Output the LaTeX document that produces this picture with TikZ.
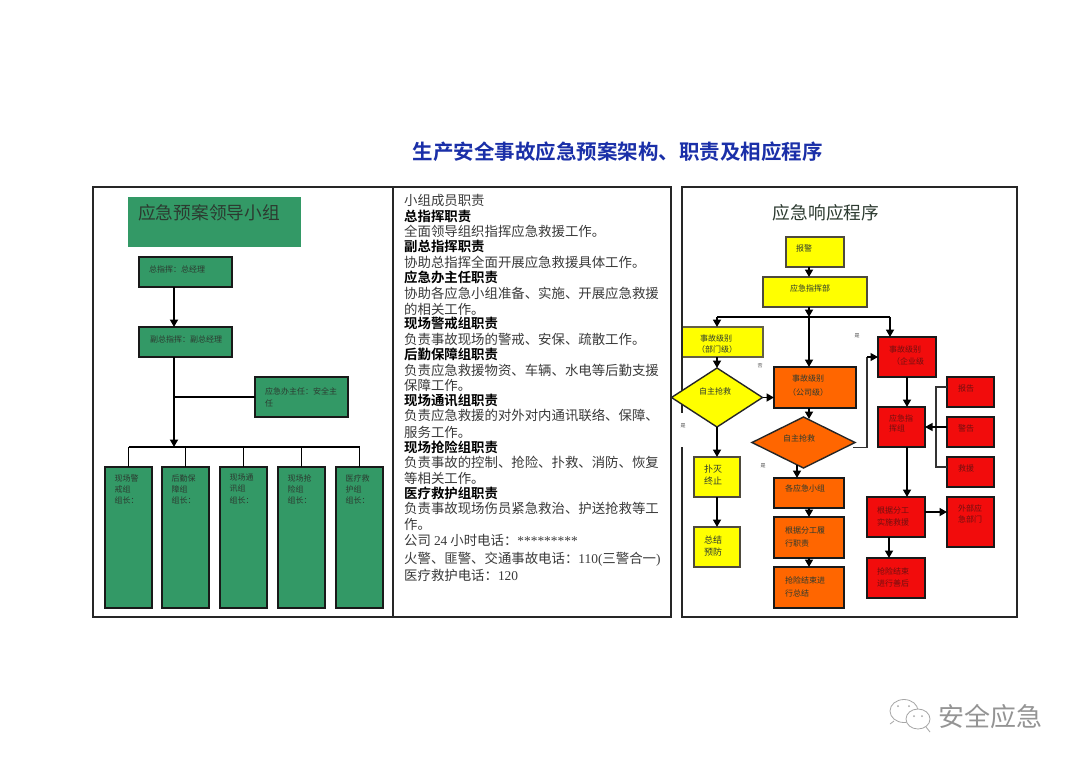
\documentclass[tikz,border=0pt]{standalone}
\usepackage{fontspec}
\usetikzlibrary{shapes.geometric,arrows.meta,calc}
\setmainfont{Liberation Serif}
\newfontfamily\cjk[BoldFont={Noto Sans CJK SC Bold}]{Noto Sans CJK SC}
\definecolor{gbox}{HTML}{339966}
\definecolor{obox}{HTML}{FF6600}
\definecolor{rbox}{HTML}{F20C0C}
\definecolor{ybox}{HTML}{FFFF00}
\definecolor{tblue}{HTML}{1A2FA8}
\definecolor{bodyc}{HTML}{3A3A3A}
\definecolor{lab}{HTML}{2C3A30}
\definecolor{labr}{HTML}{701010}
\tikzset{
  x=1pt,y=-1pt,
  base/.style={draw=black!90,line width=1.3pt,inner sep=0pt,outer sep=0pt,anchor=north west,align=left,text=lab,font=\cjk\fontsize{8}{11}\selectfont},
  gnode/.style={base,fill=gbox},
  ynode/.style={base,fill=ybox,draw=black!80!yellow},
  onode/.style={base,fill=obox},
  rnode/.style={base,fill=rbox},
  lbl/.style={inner sep=0pt,anchor=west,text=lab,font=\cjk\fontsize{8}{11}\selectfont,align=left},
  lblr/.style={lbl,text=labr},
  arr/.style={draw=black,line width=1.7pt,-{Triangle[length=7.5pt,width=8pt]}},
  ln/.style={draw=black,line width=1.2pt},
  panel/.style={draw=black!85,line width=1.2pt,fill=none},
  bt/.style={inner sep=0pt,anchor=west,text=bodyc,font=\cjk\fontsize{13.4}{15}\selectfont},
  bh/.style={inner sep=0pt,anchor=west,text=black,font=\cjk\bfseries\fontsize{13.4}{15}\selectfont},
  tinymark/.style={inner sep=0pt,text=black!70,font=\cjk\fontsize{5}{5}\selectfont}
}
\begin{document}
\begin{tikzpicture}
\useasboundingbox (0,0) rectangle (1080,764);
\fill[white] (0,0) rectangle (1080,764);
% title
\node[inner sep=0pt,text=tblue,font=\cjk\bfseries\fontsize{20.5}{22}\selectfont] (title) at (617.5,152) {生产安全事故应急预案架构、职责及相应程序};
% panels
\draw[panel] (93,187) rectangle (671,617);
\draw[panel] (393,187) -- (393,617);
\draw[panel] (682,187) rectangle (1017,617);

% left panel
\node[anchor=north west,minimum width=173pt,minimum height=50pt,inner sep=0pt,outer sep=0pt,fill=gbox] (lead) at (128,197) {};
\node[inner sep=0pt,text=lab,font=\cjk\fontsize{17.7}{20}\selectfont] (leadt) at (209,213) {应急预案领导小组};
\node[gnode,minimum width=93pt,minimum height=30pt] (zong) at (139,257) {};
\node[lbl] (zongt) at (149,269) {总指挥：总经理};
\node[gnode,minimum width=93pt,minimum height=30pt] (fu) at (139,327) {};
\node[lbl] (fut) at (150,339) {副总指挥：副总经理};
\node[gnode,minimum width=93pt,minimum height=40pt] (ban) at (255,377) {};
\node[lbl] (bant1) at (265,391) {应急办主任：安全主};
\node[lbl] (bant2) at (265,403) {任};
\coordinate (zx) at (174,287);
\coordinate (fxt) at (174,327);
\coordinate (fxb) at (174,357);
\coordinate (branch) at (174,447);
\coordinate (banj) at (174,397);
\draw[arr] (zx) -- (fxt);
\draw[arr] (fxb) -- (branch);
\draw[ln] (banj) -- (ban.west|-banj);
\foreach \n/\x/\a/\b in {g1/105/现场警/戒组,g2/162/后勤保/障组,g3/220/现场通/讯组,g4/278/现场抢/险组,g5/336/医疗救/护组}{
  \node[gnode,minimum width=47pt,minimum height=141pt] (\n) at (\x,467) {};
  \node[lbl] at (\x+9.5,478) {\a};
  \node[lbl] at (\x+9.5,489) {\b};
  \node[lbl] at (\x+9.5,500) {组长：};
}
\draw[ln] ($(g1.north)+(0,-20)$) -- ($(g5.north)+(0,-20)$);
\foreach \n in {g1,g2,g3,g4,g5}{\draw[ln] ($(\n.north)+(0,-20)$) -- (\n.north);}

% middle text
\node[bt] (m1) at (404,200) {小组成员职责};
\node[bh] (m2) at (404,216) {总指挥职责};
\node[bt] (m3) at (404,231) {全面领导组织指挥应急救援工作。};
\node[bh] (m4) at (404,246) {副总指挥职责};
\node[bt] (m5) at (404,262) {协助总指挥全面开展应急救援具体工作。};
\node[bh] (m6) at (404,277) {应急办主任职责};
\node[bt] (m7) at (404,293) {协助各应急小组准备、实施、开展应急救援};
\node[bt] (m8) at (404,309) {的相关工作。};
\node[bh] (m9) at (404,323) {现场警戒组职责};
\node[bt] (m10) at (404,339) {负责事故现场的警戒、安保、疏散工作。};
\node[bh] (m11) at (404,354) {后勤保障组职责};
\node[bt] (m12) at (404,370) {负责应急救援物资、车辆、水电等后勤支援};
\node[bt] (m13) at (404,385) {保障工作。};
\node[bh] (m14) at (404,400) {现场通讯组职责};
\node[bt] (m15) at (404,415) {负责应急救援的对外对内通讯联络、保障、};
\node[bt] (m16) at (404,432) {服务工作。};
\node[bh] (m17) at (404,447) {现场抢险组职责};
\node[bt] (m18) at (404,462) {负责事故的控制、抢险、扑救、消防、恢复};
\node[bt] (m19) at (404,478) {等相关工作。};
\node[bh] (m20) at (404,493) {医疗救护组职责};
\node[bt] (m21) at (404,508) {负责事故现场伤员紧急救治、护送抢救等工};
\node[bt] (m22) at (404,524) {作。};
\node[bt] (m23) at (404,540) {公司 {\rmfamily 24} 小时电话：{\rmfamily *********}};
\node[bt] (m24) at (404,559) {火警、匪警、交通事故电话：{\rmfamily 110(}三警合一{\rmfamily )}};
\node[bt] (m25) at (404,575) {医疗救护电话：{\rmfamily 120}};

% right panel
\fill[white] (677,413) rectangle (688,447);
\node[inner sep=0pt,text=lab,font=\cjk\fontsize{17.7}{20}\selectfont] (rt) at (826,213) {应急响应程序};
\node[ynode,minimum width=58pt,minimum height=30pt] (bj) at (786,237) {};
\node[lbl] at (796,248) {报警};
\node[ynode,minimum width=104pt,minimum height=30pt] (zh) at (763,277) {};
\node[lbl] at (790,288) {应急指挥部};
\node[ynode,minimum width=80pt,minimum height=30pt,draw=none] (y1) at (683,327) {};
\draw[ln,draw=black!70!yellow,line width=1.3pt] (y1.north west) -- (y1.north east) -- (y1.south east) -- (y1.south west);
\node[lbl] at (700,338) {事故级别};
\node[lbl] at (697,349) {（部门级）};
\node[diamond,aspect=1.55,draw=black!85,line width=1.4pt,fill=ybox,inner sep=0pt,outer sep=0pt,minimum width=91pt,minimum height=59pt] (d1) at (717,397.5) {};
\node[lbl] at (699,391) {自主抢救};
\node[ynode,minimum width=46pt,minimum height=40pt] (y2) at (694,457) {};
\node[lbl,font=\cjk\fontsize{9}{11}\selectfont] at (704,469) {扑灭};
\node[lbl,font=\cjk\fontsize{9}{11}\selectfont] at (704,481) {终止};
\node[ynode,minimum width=46pt,minimum height=40pt] (y3) at (694,527) {};
\node[lbl,font=\cjk\fontsize{9}{11}\selectfont] at (704,540) {总结};
\node[lbl,font=\cjk\fontsize{9}{11}\selectfont] at (704,552) {预防};

\node[onode,minimum width=82pt,minimum height=41pt] (o1) at (774,367) {};
\node[lbl] at (792,378) {事故级别};
\node[lbl] at (788,392) {（公司级）};
\node[diamond,aspect=2,draw=black!85,line width=1.4pt,fill=obox,inner sep=0pt,outer sep=0pt,minimum width=103pt,minimum height=51pt] (d2) at (803.5,442.5) {};
\node[lbl] at (783,438) {自主抢救};
\node[onode,minimum width=70pt,minimum height=30pt] (o2) at (774,478) {};
\node[lbl] at (785,488) {各应急小组};
\node[onode,minimum width=70pt,minimum height=41pt] (o3) at (774,517) {};
\node[lbl] at (785,530) {根据分工履};
\node[lbl] at (785,543) {行职责};
\node[onode,minimum width=70pt,minimum height=41pt] (o4) at (774,567) {};
\node[lbl] at (785,580) {抢险结束进};
\node[lbl] at (785,593) {行总结};

\node[rnode,minimum width=58pt,minimum height=40pt] (r1) at (878,337) {};
\node[lblr] at (889,349) {事故级别};
\node[lblr] at (892,361) {（企业级};
\node[rnode,minimum width=47pt,minimum height=40pt] (r2) at (878,407) {};
\node[lblr] at (889,418) {应急指};
\node[lblr] at (889,428) {挥组};
\node[rnode,minimum width=47pt,minimum height=30pt] (s1) at (947,377) {};
\node[lblr] at (958,388) {报告};
\node[rnode,minimum width=47pt,minimum height=30pt] (s2) at (947,417) {};
\node[lblr] at (958,428) {警告};
\node[rnode,minimum width=47pt,minimum height=30pt] (s3) at (947,457) {};
\node[lblr] at (958,468) {救援};
\node[rnode,minimum width=58pt,minimum height=40pt] (r3) at (867,497) {};
\node[lblr] at (877,510) {根据分工};
\node[lblr] at (877,522) {实施救援};
\node[rnode,minimum width=47pt,minimum height=50pt] (s4) at (947,497) {};
\node[lblr] at (958,508) {外部应};
\node[lblr] at (958,519) {急部门};
\node[rnode,minimum width=58pt,minimum height=40pt] (r4) at (867,558) {};
\node[lblr] at (877,571) {抢险结束};
\node[lblr] at (877,583) {进行善后};

% right connectors
\coordinate (bjs) at (809,267);
\coordinate (zht) at (809,277);
\coordinate (zhs) at (809,307);
\coordinate (jun) at (809,317);
\coordinate (o1t) at (809,367);
\coordinate (y1t) at (717,327);
\coordinate (r1t) at (890,337);
\coordinate (p357) at (867,357);
\coordinate (p447) at (867,447.5);
\coordinate (d2out) at (853,447.5);
\coordinate (p427) at (936,427);
\coordinate (p512) at (936,512);
\coordinate (p387) at (936,387);
\coordinate (p467) at (936,467);
\draw[arr] (bjs) -- (zht);
\draw[arr] (zhs) -- (jun);
\draw[arr] (jun) -- (o1t);
\draw[ln,line width=1.5pt] (y1t|-jun) -- (r1t|-jun);
\draw[arr] (y1t|-jun) -- (y1t);
\draw[arr] (r1t|-jun) -- (r1t);
\draw[arr] (d1.north|-y1.south) -- (d1.north);
\draw[arr] (d1.east) -- (o1.west|-d1.east);
\draw[arr] (d1.south) -- (y2.north);
\draw[arr] (y2.south) -- (y3.north);
\draw[arr] (809,408) -- (809,419);
\draw[arr] (797,465) -- (797,478);
\draw[arr] (809,508) -- (809,517);
\draw[arr] (809,558) -- (809,567);
\draw[ln,black!80] (d2out) -- (p447) -- (p357);
\draw[arr,line width=1.2pt] (p357) -- (r1.west|-p357);
\draw[arr] (907,377) -- (907,407);
\draw[arr] (907,447) -- (907,497);
\draw[arr] (r3.east|-p512) -- (s4.west|-p512);
\draw[arr] (889,537) -- (889,558);
\draw[ln,black!80] (s1.west|-p387) -- (p387) -- (p467) -- (s3.west|-p467);
\draw[arr,line width=1.2pt] (s2.west|-p427) -- (r2.east|-p427);

% small marks
\node[tinymark] (mk1) at (857,336) {是};
\node[tinymark] (mk2) at (760,366) {否};
\node[tinymark] (mk3) at (683,426) {是};
\node[tinymark] (mk4) at (763,466) {是};

% watermark
\begin{scope}[draw=black!35,line width=.8pt,fill=white]
\draw (904,711) ellipse (14pt and 11.5pt);
\draw (890,724) -- (894,721);
\draw[fill=white] (918,719) ellipse (12pt and 10pt);
\draw (926,727) -- (930,732);
\fill[black!35] (898,706) circle (1pt) (909,706) circle (1pt) (914,716) circle (1pt) (922,716) circle (1pt);
\end{scope}
\node[inner sep=0pt,text=black!42,font=\cjk\fontsize{26}{28}\selectfont] (wm) at (990,717) {安全应急};
\end{tikzpicture}
\end{document}
